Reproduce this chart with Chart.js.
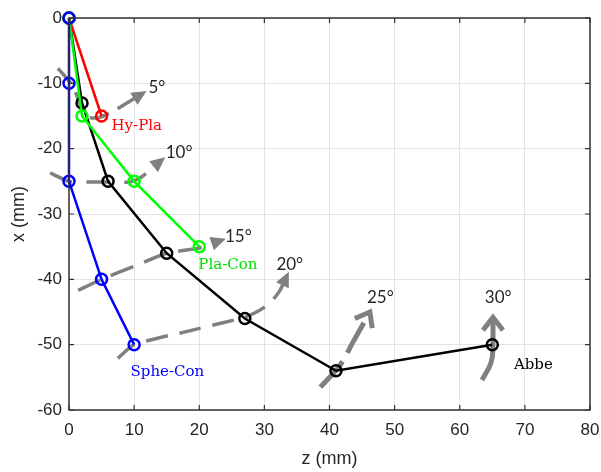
<!DOCTYPE html>
<html>
<head>
<meta charset="utf-8">
<script src="https://cdn.jsdelivr.net/npm/chart.js@4.4.1/dist/chart.umd.min.js"></script>
<style>
html, body { margin: 0; padding: 0; background: #fff; }
#wrap { width: 601px; height: 472px; }
</style>
</head>
<body>
<div id="wrap"><canvas id="lensChart"></canvas></div>
<script>
// lens surface positions: z (mm) along axis, x (mm) height
const abbeZ = [0, 2, 6, 15, 27, 41, 65];
const abbeX = [0, -13, -25, -36, -46, -54, -50];
const hyPlaZ = [0, 5];
const hyPlaX = [0, -15];
const plaConZ = [0, 2, 10, 20];
const plaConX = [0, -15, -25, -35];
const spheConZ = [0, 0, 0, 5, 10];
const spheConX = [0, -10, -25, -40, -50];

// field angle guide arcs (grey arrows)
const arc5Z = [-1.7, 0.5, 2.0, 2.9, 4.8, 7.1, 9.4, 11.4];
const arc5X = [-7.7, -10.3, -13.8, -15.2, -15.2, -14.1, -12.7, -11.5];
const arc10Z = [-2.9, 0, 3.2, 6.6, 9.4, 11.2, 12.7, 14.3];
const arc10X = [-23.7, -25, -25.1, -25.1, -25.1, -24.3, -23, -21.7];
const arc15Z = [1.4, 5, 10, 15, 20, 23.5];
const arc15X = [-41.7, -40, -38, -36, -35.2, -34];
const arc20Z = [7.5, 10, 18, 27, 29.0, 30.9, 32.4, 33.5];
const arc20X = [-52.1, -50, -48, -45.8, -44.9, -43.6, -41.7, -39.4];
const arc25Z = [38.6, 41.3, 42.4, 43.5, 46.2];
const arc25X = [-56.5, -53.6, -51.9, -49.8, -45.0];
const arc30Z = [63.4, 64.5, 65, 65.1, 65.1];
const arc30X = [-55.4, -53.5, -51.9, -49.6, -45.8];

const zTicks = [0, 10, 20, 30, 40, 50, 60, 70, 80];
const xTicks = [0, -10, -20, -30, -40, -50, -60];

const angleLabels = ["5°", "10°", "15°", "20°", "25°", "30°"];
const angleLabelZ = [13.5, 16.9, 26.0, 33.9, 47.8, 65.9];
const angleLabelX = [-10.7, -20.6, -33.5, -37.8, -42.8, -42.8];

const lensNames = ["Hy-Pla", "Pla-Con", "Sphe-Con", "Abbe"];
const lensNameZ = [10.4, 24.4, 15.1, 71.3];
const lensNameX = [-16.5, -37.8, -54.2, -53.1];
const lensColors = ["#ff0000", "#00e000", "#0000ff", "#000000"];

function pts(zs, xs) {
    return zs.map((z, i) => ({ x: z, y: xs[i] }));
}

function lensSet(label, zs, xs, color) {
    return {
        label: label,
        data: pts(zs, xs),
        borderColor: color,
        borderWidth: 2.5,
        pointRadius: 5.5,
        pointBorderWidth: 2.5,
        pointBorderColor: color,
        pointBackgroundColor: "rgba(0,0,0,0)",
        tension: 0,
        clip: false
    };
}

function arcSet(zs, xs, head, width, dash) {
    return {
        label: "arc",
        data: pts(zs, xs),
        borderColor: "#808080",
        borderWidth: width,
        borderDash: dash,
        pointRadius: 0,
        tension: 0.2,
        clip: false,
        arrowHead: head
    };
}

const frame = {
    id: "frame",
    afterDatasetsDraw(chart) {
        const ctx = chart.ctx;
        const a = chart.chartArea;
        const sx = chart.scales.x, sy = chart.scales.y;

        // arrow heads at the end of each grey arc
        chart.data.datasets.forEach((ds, i) => {
            if (!ds.arrowHead) return;
            const meta = chart.getDatasetMeta(i);
            const n = meta.data.length;
            const p1 = meta.data[n - 2], p2 = meta.data[n - 1];
            const ang = Math.atan2(p2.y - p1.y, p2.x - p1.x);
            ctx.save();
            ctx.translate(p2.x, p2.y);
            ctx.rotate(ang);
            ctx.fillStyle = "#808080";
            ctx.strokeStyle = "#808080";
            if (ds.arrowHead === "tri") {
                ctx.beginPath();
                ctx.moveTo(4, 0);
                ctx.lineTo(-11, -7);
                ctx.lineTo(-11, 7);
                ctx.closePath();
                ctx.fill();
            } else {
                ctx.lineWidth = 5;
                ctx.lineCap = "butt";
                ctx.beginPath();
                ctx.moveTo(-13, -10);
                ctx.lineTo(0, 0);
                ctx.lineTo(-13, 10);
                ctx.stroke();
            }
            ctx.restore();
        });

        // axes box with inward ticks
        ctx.save();
        ctx.strokeStyle = "#333333";
        ctx.lineWidth = 1.5;
        ctx.strokeRect(a.left, a.top, a.right - a.left, a.bottom - a.top);
        ctx.lineWidth = 1.2;
        ctx.beginPath();
        zTicks.forEach(v => {
            const px = sx.getPixelForValue(v);
            ctx.moveTo(px, a.bottom); ctx.lineTo(px, a.bottom - 5);
            ctx.moveTo(px, a.top); ctx.lineTo(px, a.top + 5);
        });
        xTicks.forEach(v => {
            const py = sy.getPixelForValue(v);
            ctx.moveTo(a.left, py); ctx.lineTo(a.left + 5, py);
            ctx.moveTo(a.right, py); ctx.lineTo(a.right - 5, py);
        });
        ctx.stroke();

        // text labels
        ctx.textAlign = "center";
        ctx.textBaseline = "middle";
        ctx.font = "17px Lato, 'Open Sans', sans-serif";
        ctx.fillStyle = "#262626";
        angleLabels.forEach((t, i) => {
            ctx.fillText(t, sx.getPixelForValue(angleLabelZ[i]), sy.getPixelForValue(angleLabelX[i]));
        });
        ctx.font = "15px 'DejaVu Serif', serif";
        lensNames.forEach((t, i) => {
            ctx.fillStyle = lensColors[i];
            ctx.fillText(t, sx.getPixelForValue(lensNameZ[i]), sy.getPixelForValue(lensNameX[i]));
        });
        ctx.restore();
    }
};

const tickFont = { family: "'Liberation Sans', Arial, sans-serif", size: 17 };

new Chart(document.getElementById("lensChart"), {
    type: "line",
    data: {
        datasets: [
            lensSet("Sphe-Con", spheConZ, spheConX, "#0000ff"),
            lensSet("Pla-Con", plaConZ, plaConX, "#00ff00"),
            lensSet("Hy-Pla", hyPlaZ, hyPlaX, "#ff0000"),
            lensSet("Abbe", abbeZ, abbeX, "#000000"),
            arcSet(arc5Z, arc5X, "tri", 3.5, [20, 10]),
            arcSet(arc10Z, arc10X, "tri", 3.5, [24, 14]),
            arcSet(arc15Z, arc15X, "tri", 3.5, [24, 12]),
            arcSet(arc20Z, arc20X, "tri", 3.5, [22, 12]),
            arcSet(arc25Z, arc25X, "chev", 5, [34, 10]),
            arcSet(arc30Z, arc30X, "chev", 5, [])
        ]
    },
    options: {
        responsive: true,
        maintainAspectRatio: false,
        animation: false,
        layout: { padding: { top: 18, right: 11, left: 0, bottom: 0 } },
        plugins: { legend: { display: false }, tooltip: { enabled: false } },
        scales: {
            x: {
                type: "linear",
                min: 0, max: 80,
                afterFit: s => { s.height = 62; s.paddingRight = 0; s.paddingLeft = 0; },
                afterBuildTicks: s => { s.ticks = zTicks.map(v => ({ value: v })); },
                grid: { color: "#e3e3e3", lineWidth: 1, drawTicks: false },
                border: { display: false },
                ticks: { color: "#262626", font: tickFont, padding: 10 },
                title: { display: true, text: "z (mm)", color: "#262626",
                         font: { family: "'Liberation Sans', Arial, sans-serif", size: 18 }, padding: { top: 0, bottom: 2 } }
            },
            y: {
                type: "linear",
                min: -60, max: 0,
                afterFit: s => { s.width = 69; s.paddingTop = 0; s.paddingBottom = 0; },
                afterBuildTicks: s => { s.ticks = xTicks.map(v => ({ value: v })); },
                grid: { color: "#e3e3e3", lineWidth: 1, drawTicks: false },
                border: { display: false },
                ticks: { color: "#262626", font: tickFont, padding: 7 },
                title: { display: true, text: "x (mm)", color: "#262626",
                         font: { family: "'Liberation Sans', Arial, sans-serif", size: 18 }, padding: { top: 8, bottom: 0 } }
            }
        }
    },
    plugins: [frame]
});
</script>
</body>
</html>
